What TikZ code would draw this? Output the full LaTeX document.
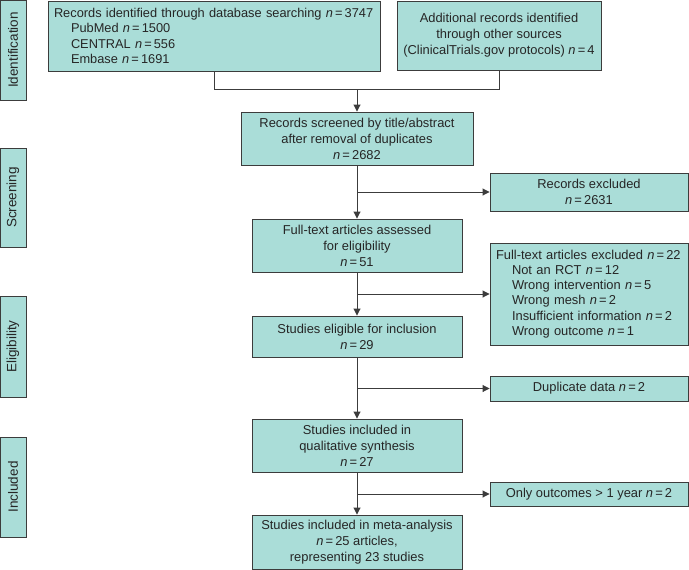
\documentclass[tikz,border=0pt]{standalone}
\usepackage{fontspec}
\setmainfont{Liberation Sans}
\usetikzlibrary{arrows.meta}
\definecolor{boxfill}{RGB}{170,221,216}
\definecolor{edgecol}{RGB}{60,60,60}
\newcommand\Nis{\textit{n}\,=\,}
\begin{document}
\begin{tikzpicture}[x=1pt,y=-1pt,
  box/.style={draw=edgecol, fill=boxfill, line width=0.9pt, inner sep=3pt,
    font=\fontsize{12.9}{16}\selectfont, align=center, text=black!85},
  side/.style={box, rotate=90, minimum height=26pt, font=\fontsize{13.5}{16}\selectfont},
  ln/.style={draw=edgecol, line width=0.9pt},
  arr/.style={ln, -{Triangle[length=7pt,width=7pt]}}]
\useasboundingbox (0,0) rectangle (689,570);

% side labels
\node[side, minimum width=100pt] (sid) at (13,50) {Identification};
\node[side, minimum width=99pt] (ssc) at (13,197.5) {Screening};
\node[side, minimum width=101pt] (sel) at (13,346.5) {Eligibility};
\node[side, minimum width=100pt] (sin) at (13,487) {Included};

% main boxes
\node[box, align=left, inner sep=1pt, text width=330pt, minimum width=332pt, minimum height=70pt,
      font=\fontsize{12.8}{15.3}\selectfont] (db) at (214,36)
  {\hspace*{5pt}\mbox{Records identified through database searching \Nis3747}\\
   \hspace*{22pt}PubMed \Nis1500\\
   \hspace*{22pt}CENTRAL \Nis556\\
   \hspace*{22pt}Embase \Nis1691};
\node[box, minimum width=204pt, minimum height=69pt] (other) at (499,35.5)
  {Additional records identified\\through other sources\\(ClinicalTrials.gov protocols) \Nis4};
\node[box, minimum width=232pt, minimum height=53pt] (screen) at (357,138.5)
  {Records screened by title/abstract\\after removal of duplicates\\\Nis2682};
\node[box, minimum width=210pt, minimum height=53pt] (full) at (357,245.5)
  {Full-text articles assessed\\for eligibility\\\Nis51};
\node[box, minimum width=210pt, minimum height=41pt] (elig) at (357,336.5)
  {Studies eligible for inclusion\\\Nis29};
\node[box, minimum width=210pt, minimum height=53pt] (qual) at (357,445.5)
  {Studies included in\\qualitative synthesis\\\Nis27};
\node[box, minimum width=210pt, minimum height=54pt] (meta) at (357,542)
  {Studies included in meta-analysis\\\Nis25 articles,\\representing 23 studies};

% right boxes
\node[box, minimum width=198pt, minimum height=38pt] (ex1) at (589,192)
  {Records excluded\\\Nis2631};
\node[box, align=left, text width=186pt, minimum width=198pt, minimum height=102pt,
      font=\fontsize{12.9}{15.3}\selectfont] (ex2) at (589,294)
  {Full-text articles excluded \Nis22\\
   \hspace*{16pt}Not an RCT \Nis12\\
   \hspace*{16pt}Wrong intervention \Nis5\\
   \hspace*{16pt}Wrong mesh \Nis2\\
   \hspace*{16pt}Insufficient information \Nis2\\
   \hspace*{16pt}Wrong outcome \Nis1};
\node[box, minimum width=198pt, minimum height=25pt] (dup) at (589,388.5)
  {Duplicate data \Nis2};
\node[box, minimum width=198pt, minimum height=24pt] (only) at (589,494)
  {Only outcomes > 1 year \Nis2};

% connectors
\coordinate (join) at (357,89);
\draw[ln] (db.south) |- (join);
\draw[ln] (other.south) |- (join);
\draw[arr] (join) -- (screen.north);
\draw[arr] (screen.south) -- (full.north);
\draw[arr] (full.south) -- (elig.north);
\draw[arr] (elig.south) -- (qual.north);
\draw[arr] (qual.south) -- (meta.north);
\draw[arr] (screen.south |- ex1.west) -- (ex1.west);
\draw[arr] (full.south |- ex2.west) -- (ex2.west);
\draw[arr] (elig.south |- dup.west) -- (dup.west);
\draw[arr] (qual.south |- only.west) -- (only.west);
\end{tikzpicture}
\end{document}
